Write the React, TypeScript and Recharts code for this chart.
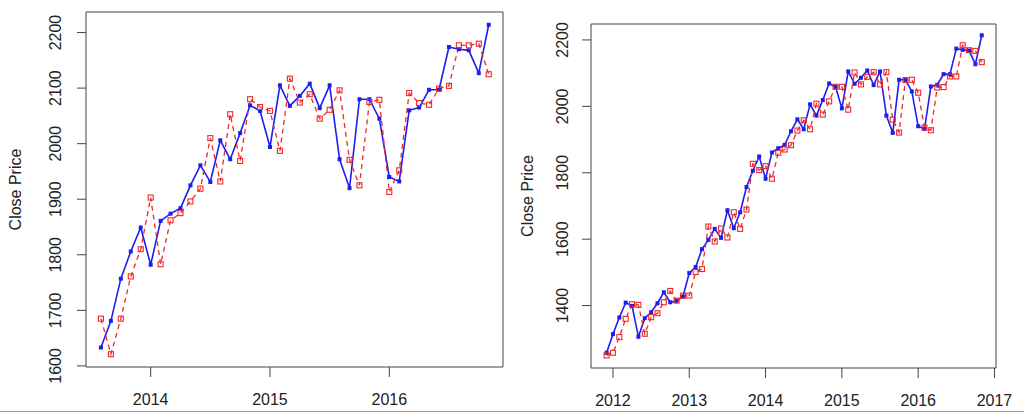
import { Line, LineChart, ReferenceArea, XAxis, YAxis } from "recharts";

// S&P 500 monthly close (blue) against fitted values (red, dashed), two windows.

const MONTHS = [
  "2011-12",
  "2012-01", "2012-02", "2012-03", "2012-04", "2012-05", "2012-06",
  "2012-07", "2012-08", "2012-09", "2012-10", "2012-11", "2012-12",
  "2013-01", "2013-02", "2013-03", "2013-04", "2013-05", "2013-06",
  "2013-07", "2013-08", "2013-09", "2013-10", "2013-11", "2013-12",
  "2014-01", "2014-02", "2014-03", "2014-04", "2014-05", "2014-06",
  "2014-07", "2014-08", "2014-09", "2014-10", "2014-11", "2014-12",
  "2015-01", "2015-02", "2015-03", "2015-04", "2015-05", "2015-06",
  "2015-07", "2015-08", "2015-09", "2015-10", "2015-11", "2015-12",
  "2016-01", "2016-02", "2016-03", "2016-04", "2016-05", "2016-06",
  "2016-07", "2016-08", "2016-09", "2016-10", "2016-11",
];

const CLOSE = [
  1258, 1314, 1364, 1409, 1399, 1306, 1362, 1380, 1407, 1440, 1410, 1414,
  1427, 1498, 1516, 1570, 1598, 1631, 1604, 1687, 1633, 1681, 1757, 1806,
  1849, 1782, 1861, 1874, 1884, 1925, 1961, 1931, 2006, 1972, 2019, 2069,
  2059, 1994, 2105, 2068, 2086, 2108, 2064, 2105, 1972, 1920, 2080, 2080,
  2045, 1940, 1932, 2060, 2065, 2097, 2097, 2174, 2170, 2168, 2127, 2214,
];

// fitted values, full window (right panel)
const FIT_FULL = [
  1250, 1258, 1305, 1360, 1404, 1402, 1315, 1365, 1377, 1410, 1444, 1415,
  1430, 1430, 1501, 1510, 1638, 1593, 1632, 1605, 1681, 1631, 1689, 1827,
  1808, 1820, 1782, 1860, 1870, 1883, 1927, 1958, 1931, 2008, 1975, 2015,
  2059, 2059, 1990, 2102, 2066, 2089, 2103, 2066, 2103, 1960, 1921, 2079,
  2080, 2041, 1936, 1928, 2057, 2058, 2090, 2090, 2184, 2169, 2167, 2133,
];

// fitted values, recent window from 2013-08 (left panel)
const FIT_RECENT = [
  1685, 1621, 1685, 1761, 1810, 1903, 1783, 1862, 1875, 1896, 1919, 2010,
  1932, 2053, 1969, 2080, 2066, 2059, 1987, 2117, 2074, 2089, 2045, 2061,
  2096, 1971, 1925, 2075, 2079, 1913, 1952, 2091, 2073, 2070, 2099, 2104,
  2177, 2177, 2180, 2125,
];

const RECENT_START = MONTHS.indexOf("2013-08");

const LEFT_Y_TICKS = [1600, 1700, 1800, 1900, 2000, 2100, 2200];
const LEFT_X_TICKS = [2014, 2015, 2016];
const RIGHT_Y_TICKS = [1400, 1600, 1800, 2000, 2200];
const RIGHT_X_TICKS = [2012, 2013, 2014, 2015, 2016, 2017];

const toYear = (m: string) => {
  const [y, mo] = m.split("-").map(Number);
  return y + (mo - 1) / 12;
};

const fullData = MONTHS.map((m, i) => ({
  t: toYear(m),
  close: CLOSE[i],
  fit: FIT_FULL[i],
}));

const recentData = MONTHS.slice(RECENT_START).map((m, i) => ({
  t: toYear(m),
  close: CLOSE[RECENT_START + i],
  fit: FIT_RECENT[i],
}));

const FONT = "'Liberation Sans', Arial, Helvetica, sans-serif";
const BLUE = "#1e1ef0";
const RED = "#f02828";
const INK = "#222";
const BOX = "#444";

const blueDot = (p: any) =>
  p.cx == null ? null : (
    <rect key={`b${p.index}`} x={p.cx - 2} y={p.cy - 2} width={4} height={4} fill={BLUE} />
  );

const redDot = (p: any) =>
  p.cx == null ? null : (
    <rect
      key={`r${p.index}`}
      x={p.cx - 2.5}
      y={p.cy - 2.5}
      width={5}
      height={5}
      fill="none"
      stroke={RED}
      strokeWidth={1.1}
    />
  );

const yTick = (p: any) => (
  <text
    x={p.x}
    y={p.y}
    transform={`rotate(-90, ${p.x}, ${p.y})`}
    textAnchor="middle"
    dominantBaseline="central"
    fontSize={16}
    fontFamily={FONT}
    fill={INK}
  >
    {p.payload.value}
  </text>
);

const yLabel = (offset: number) => (p: any) => {
  const vb = p.viewBox;
  const cx = vb.x + offset;
  const cy = vb.y + vb.height / 2;
  return (
    <text
      x={cx}
      y={cy}
      transform={`rotate(-90, ${cx}, ${cy})`}
      textAnchor="middle"
      dominantBaseline="central"
      fontSize={16}
      fontFamily={FONT}
      fill={INK}
    >
      Close Price
    </text>
  );
};

function PricePanel({
  data,
  width,
  left,
  margin,
  xDomain,
  yDomain,
  xTicks,
  yTicks,
  yTickMargin,
  labelOffset,
}: {
  data: { t: number; close: number; fit: number }[];
  width: number;
  left: number;
  margin: { top: number; right: number; bottom: number; left: number };
  xDomain: [number, number];
  yDomain: [number, number];
  xTicks: number[];
  yTicks: number[];
  yTickMargin: number;
  labelOffset: number;
}) {
  return (
    <div style={{ position: "absolute", left, top: 0 }}>
      <LineChart width={width} height={414} data={data} margin={margin}>
        <XAxis
          dataKey="t"
          type="number"
          domain={xDomain}
          ticks={xTicks}
          allowDataOverflow
          axisLine={false}
          tickSize={10}
          tickMargin={17}
          tickLine={{ stroke: BOX }}
          tick={{ fontSize: 16, fill: INK, fontFamily: FONT }}
          height={40}
        />
        <YAxis
          type="number"
          domain={yDomain}
          ticks={yTicks}
          allowDataOverflow
          axisLine={false}
          width={86}
          tickSize={9}
          tickMargin={yTickMargin}
          tickLine={{ stroke: BOX }}
          tick={yTick}
          label={yLabel(labelOffset)}
        />
        <ReferenceArea
          x1={xDomain[0]}
          x2={xDomain[1]}
          y1={yDomain[0]}
          y2={yDomain[1]}
          fill="none"
          stroke={BOX}
          strokeWidth={1}
          fillOpacity={0}
        />
        <Line
          type="linear"
          dataKey="close"
          stroke={BLUE}
          strokeWidth={1.6}
          dot={blueDot}
          activeDot={false}
          isAnimationActive={false}
        />
        <Line
          type="linear"
          dataKey="fit"
          stroke={RED}
          strokeWidth={1.3}
          strokeDasharray="5 4"
          dot={redDot}
          activeDot={false}
          isAnimationActive={false}
        />
      </LineChart>
    </div>
  );
}

export default function App() {
  return (
    <div
      style={{
        position: "absolute",
        left: 0,
        top: 0,
        width: 1024,
        height: 414,
        background: "#fff",
        overflow: "hidden",
      }}
    >
      <PricePanel
        data={recentData}
        width={505}
        left={0}
        margin={{ top: 12, right: 2, bottom: 7, left: 0 }}
        xDomain={[2013.458, 2016.953]}
        yDomain={[1598, 2237]}
        xTicks={LEFT_X_TICKS}
        yTicks={LEFT_Y_TICKS}
        yTickMargin={21}
        labelOffset={15}
      />
      <PricePanel
        data={fullData}
        width={519}
        left={505}
        margin={{ top: 24, right: 28, bottom: 6, left: 0 }}
        xDomain={[2011.712, 2017.02]}
        yDomain={[1212, 2248]}
        xTicks={RIGHT_X_TICKS}
        yTicks={RIGHT_Y_TICKS}
        yTickMargin={19}
        labelOffset={22}
      />
      <div
        style={{
          position: "absolute",
          left: 0,
          top: 411,
          width: 1024,
          height: 1,
          background: "#999",
        }}
      />
    </div>
  );
}
